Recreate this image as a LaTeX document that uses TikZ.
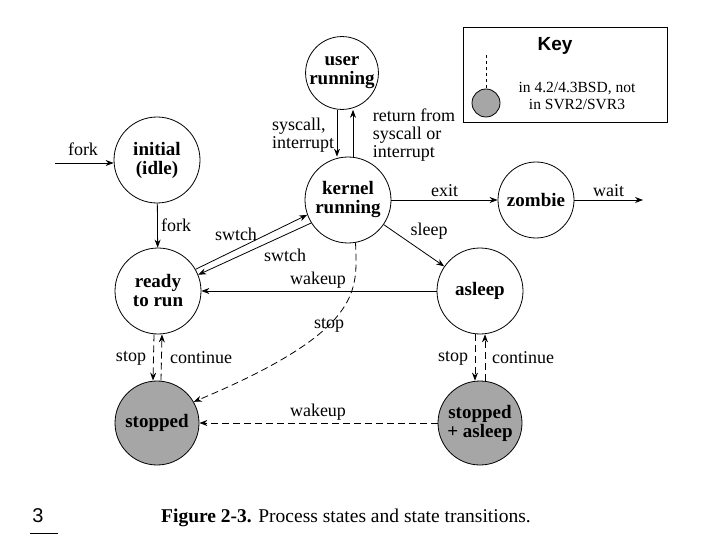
\documentclass[tikz,border=0pt]{standalone}
\usepackage{fontspec}
\setmainfont{Liberation Serif}
\newfontfamily\keyfont{Liberation Sans}
\usetikzlibrary{arrows.meta}
\begin{document}
\begin{tikzpicture}[x=1pt,y=-1pt,
  st/.style={circle,draw,thick,minimum size=#1,inner sep=0pt,align=center,font=\fontsize{19}{19}\selectfont\bfseries},
  st/.default=86pt,
  gst/.style={st=84pt,fill=gray!70},
  ar/.style={thick,-{Stealth[length=8pt]}},
  da/.style={ar,dashed,dash pattern=on 7pt off 4pt},
  lb/.style={font=\fontsize{18}{18}\selectfont,align=left}]
\useasboundingbox (0,0) rectangle (720,540);
\node[st=72pt] (user) at (342,73) {user\\running};
\node[st] (init) at (157,160) {initial\\(idle)};
\node[st] (kern) at (348,200) {kernel\\running};
\node[st=76pt] (zomb) at (536,200) {zombie};
\node[st] (ready) at (158,291) {ready\\to run};
\node[st] (sleep) at (480,291) {asleep};
\node[gst] (stop) at (157,423) {stopped};
\node[gst] (stsl) at (480,423) {stopped\\+ asleep};
% key
\node[draw,thick,minimum width=204pt,minimum height=95pt] (key) at (565,74.5) {};
\node[font=\keyfont\bfseries\fontsize{19}{19}\selectfont] (kt) at (555,46) {Key};
\node[circle,draw,thick,fill=gray!70,minimum size=28pt,inner sep=0pt] (kc) at (486,103) {};
\coordinate (kd) at (486,55);
\draw[thick,dashed] (kd) -- (kc);
\node[font=\fontsize{15.5}{17}\selectfont,align=center] (kl) at (577,96) {in 4.2/4.3BSD, not\\in SVR2/SVR3};
% edges
\coordinate (forkin) at (55,163);
\draw[ar] (forkin) -- (init.west |- forkin);
\node[lb] (lfork1) at (83,149) {fork};
\draw[ar] (init) -- (ready) node[lb,midway,right] {fork};
\draw[ar] ([xshift=-5pt]user.south) -- ([xshift=-11pt]kern.north) ;
\node[lb] (lsys) at (303,135) {syscall,\\interrupt};
\draw[ar] ([xshift=5pt]kern.north) -- ([xshift=11pt]user.south);
\node[lb] (lret) at (414,135) {return from\\syscall or\\interrupt};
\draw[ar] (kern) -- (zomb) node[lb,midway,above] {exit};
\coordinate (waitend) at (643,200);
\draw[ar] (zomb) -- (waitend) node[lb,midway,above] {wait};
\draw[ar] (kern) -- (sleep) node[lb,pos=0.45,above right,xshift=-4pt] {sleep};
\draw[ar] (ready.30) -- (kern.200);
\node[lb] (lsw1) at (236,234) {swtch};
\draw[ar] (kern.212) -- (ready.22);
\node[lb] (lsw2) at (285,255) {swtch};
\draw[ar] (sleep) -- (ready);
\node[lb] (lwk1) at (318,280) {wakeup};
\draw[da] (kern.-80) .. controls (357,290) and (365,330) .. (stop.30);
\node[lb] (lst) at (329,325) {stop};
\draw[da] ([xshift=-4pt]ready.south) -- ([xshift=-4pt]stop.north);
\draw[da] ([xshift=4pt]stop.north) -- ([xshift=4pt]ready.south);
\node[lb] (ls1) at (131,358) {stop};
\node[lb] (lc1) at (201,358) {continue};
\draw[da] ([xshift=-5pt]sleep.south) -- ([xshift=-5pt]stsl.north);
\draw[da] ([xshift=5pt]stsl.north) -- ([xshift=5pt]sleep.south);
\node[lb] (ls2) at (453,358) {stop};
\node[lb] (lc2) at (523,358) {continue};
\draw[da] (stsl) -- (stop);
\node[lb] (lwk2) at (318,412) {wakeup};
% caption
\node[font=\fontsize{19.5}{20}\selectfont] (cap) at (346,518) {\textbf{Figure 2-3.} Process states and state transitions.};
\node[font=\keyfont\fontsize{20}{20}\selectfont] (num) at (38,516) {3};
\coordinate (ul1) at (30,533); \coordinate (ul2) at (58,533);
\draw (ul1) -- (ul2);
\end{tikzpicture}
\end{document}
